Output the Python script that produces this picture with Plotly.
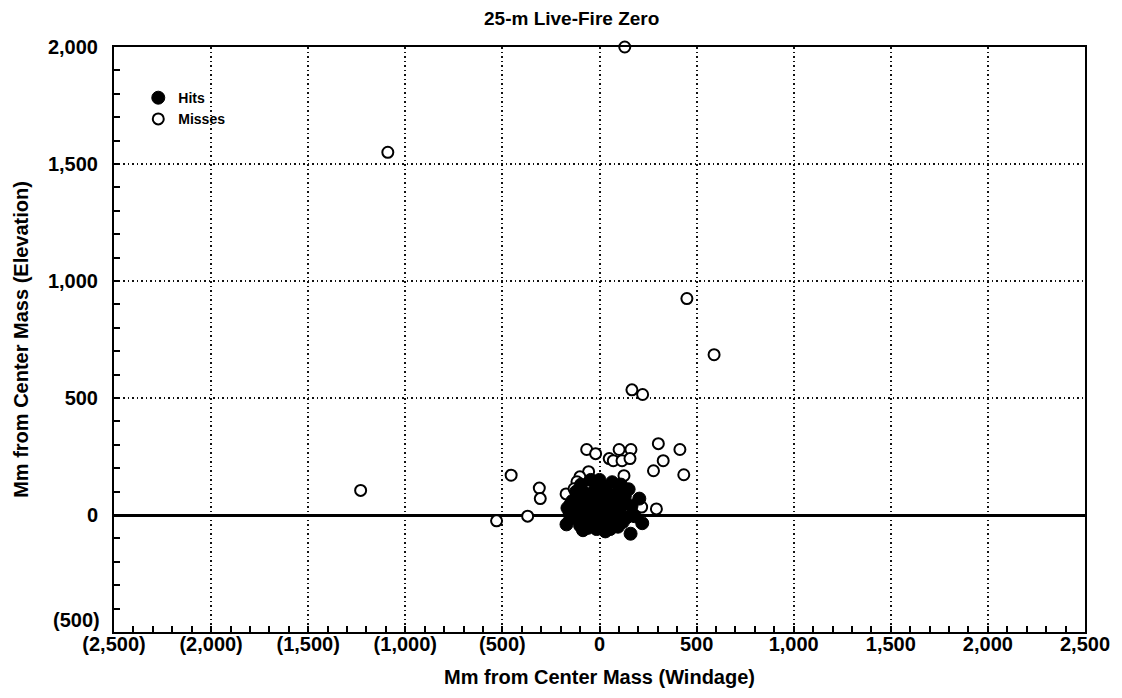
import plotly.graph_objects as go

# ---- data (Mm from center mass) ----
miss_x = [130, -1090, 450, 590, 167, 222, -1230, -455, -530, -370, -310, -305,
          -66, -20, 101, 162, 50, 71, 116, 157, 303, 414, 328, 278, 434,
          -172, -56, -101, -116, 126, -151, -157, 202, 217, 293, -131]
miss_y = [2000, 1550, 925, 685, 535, 515, 105, 170, -25, -5, 115, 70,
          280, 262, 280, 280, 241, 232, 232, 241, 305, 280, 232, 189, 172,
          90, 185, 163, 142, 168, 47, 13, 34, 34, 26, 112]

hit_x = [-170, -165, -140, -130, -120, -110, -100, -95, -90, -80, -75, -65, -60,
         -55, -45, -40, -35, -30, -20, -15, -10, 0, 0, 5, 15, 20, 25, 35, 40,
         45, 55, 60, 65, 75, 80, 90, 95, 100, 110, 115, 120, 130, 140, 150,
         160, 165, 180, 220, 205, -150, 30, -85]
hit_y = [-40, 30, 60, -10, 100, 20, -45, 130, 60, -20, 10, 90, -55,
         40, 150, 0, -35, 70, 110, -60, 30, 150, -10, 80, -45, 50, 120, 10, -30,
         90, -60, 30, 140, -20, 60, 10, -50, 100, 130, 40, -30, 80, -10, 110,
         -80, 40, -5, -35, 70, -15, -70, -65]

x_ticks = [-2500, -2000, -1500, -1000, -500, 0, 500, 1000, 1500, 2000, 2500]
x_labels = ["(2,500)", "(2,000)", "(1,500)", "(1,000)", "(500)", "0",
            "500", "1,000", "1,500", "2,000", "2,500"]
y_ticks = [-500, 0, 500, 1000, 1500, 2000]
y_labels = ["(500)", "0", "500", "1,000", "1,500", "2,000"]

FONT = "Liberation Sans, Arial, sans-serif"
TICKFONT = dict(family=FONT, size=20, color="black", weight="bold")

fig = go.Figure()
fig.add_trace(go.Scatter(
    x=miss_x, y=miss_y, mode="markers", name="Misses", legendrank=2,
    cliponaxis=False,
    marker=dict(symbol="circle", size=11, color="white",
                line=dict(color="black", width=2))))
fig.add_trace(go.Scatter(
    x=hit_x, y=hit_y, mode="markers", name="Hits", legendrank=1,
    marker=dict(symbol="circle", size=13, color="black",
                line=dict(color="black", width=1))))

axis_common = dict(
    showline=True, linecolor="black", linewidth=2, mirror=True,
    showgrid=True, gridcolor="#111", gridwidth=1.5, griddash="1.5px,3px",
    ticks="inside", ticklen=6, tickcolor="black", tickwidth=1.5,
    tickfont=TICKFONT,
)

# the lowest y label sits a little higher than its tick in the reference,
# clear of the x labels: draw it as an annotation at its tick value
y_text = [("" if v == y_ticks[0] else t) for v, t in zip(y_ticks, y_labels)]

# page has an 8px body margin, so the figure is sized to fit inside it
fig.update_layout(
    width=1114, height=690,
    margin=dict(l=100, r=35, t=39, b=66),
    paper_bgcolor="white", plot_bgcolor="white",
    title=dict(text="<b>25-m Live-Fire Zero</b>", xref="container", x=0.506,
               xanchor="center", y=0.985, yanchor="middle",
               font=dict(family=FONT, size=19, color="black")),
    showlegend=True,
    legend=dict(x=0.025, y=0.94, xanchor="left", yanchor="top",
                bgcolor="rgba(0,0,0,0)",
                font=dict(family=FONT, size=14, color="black", weight="bold")),
    xaxis=dict(range=[-2500, 2500], tickvals=x_ticks, ticktext=x_labels,
               zeroline=False, ticklabelstandoff=-7,
               minor=dict(dtick=100, ticks="inside", ticklen=6,
                          tickcolor="black", showgrid=False),
               title=dict(text="<b>Mm from Center Mass (Windage)</b>",
                          standoff=16,
                          font=dict(family=FONT, size=20, color="black")),
               **axis_common),
    yaxis=dict(range=[-500, 2000], tickvals=y_ticks, ticktext=y_text,
               zeroline=True, zerolinecolor="black", zerolinewidth=2.5,
               ticklabelstandoff=10,
               minor=dict(dtick=100, ticks="inside", ticklen=6,
                          tickcolor="black", showgrid=False),
               title=dict(text="<b>Mm from Center Mass (Elevation)</b>",
                          standoff=14,
                          font=dict(family=FONT, size=20, color="black")),
               **axis_common),
    annotations=[dict(text=y_labels[0], xref="paper", x=0, xanchor="right",
                      xshift=-12, yref="y", y=y_ticks[0], yanchor="middle",
                      yshift=12, showarrow=False, font=TICKFONT)],
)

fig.write_html("out.html")
